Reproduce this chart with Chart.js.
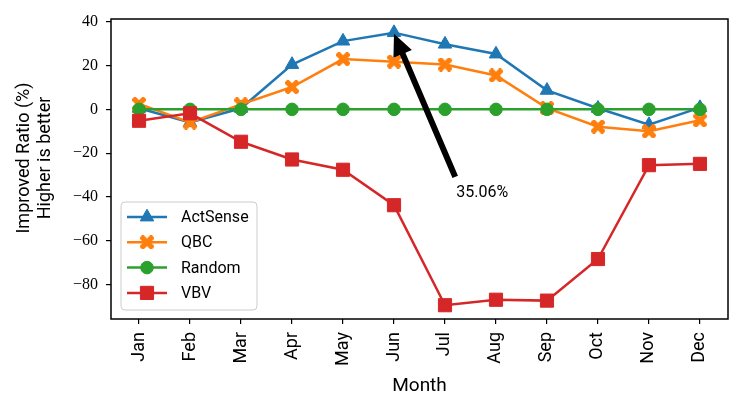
<!DOCTYPE html>
<html>
<head>
<meta charset="utf-8">
<script src="https://cdn.jsdelivr.net/npm/chart.js@4.4.0/dist/chart.umd.min.js"></script>
<style>
html, body { margin: 0; padding: 0; background: #fff; }
</style>
</head>
<body>
<canvas id="chart" width="748" height="411"></canvas>
<script>
const months = ['Jan', 'Feb', 'Mar', 'Apr', 'May', 'Jun', 'Jul', 'Aug', 'Sep', 'Oct', 'Nov', 'Dec'];
const actSense = [0.5, -6, 0.5, 20.5, 31.2, 35.06, 29.8, 25.3, 8.7, 0.5, -7, 0.8];
const qbc = [2.5, -6, 2.3, 10.2, 23, 21.8, 20.5, 15.5, 0.6, -7.9, -10, -5];
const random = [0, 0, 0, 0, 0, 0, 0, 0, 0, 0, 0, 0];
const vbv = [-5.2, -1.8, -14.8, -22.9, -27.6, -43.8, -89.5, -87, -87.4, -68.4, -25.5, -24.9];
const yTicks = [-80, -60, -40, -20, 0, 20, 40];
const yTitle = ['Improved Ratio (%)', 'Higher is better'];
const noteText = '35.06%';
const notePos = [6.22, -40];

const SANS = 'Roboto, "Liberation Sans", sans-serif';
const SERIF = '"Liberation Serif", serif';

function xMarker(color, size) {
    const c = document.createElement('canvas');
    c.width = size;
    c.height = size;
    const g = c.getContext('2d');
    const h = size / 2;
    g.translate(h, h);
    g.rotate(Math.PI / 4);
    g.fillStyle = color;
    g.fillRect(-h * 1.2, -2.7, h * 2.4, 5.4);
    g.fillRect(-2.7, -h * 1.2, 5.4, h * 2.4);
    return c;
}

function points(values) {
    return values.map((v, i) => ({ x: i, y: v }));
}

function series(label, values, color, style, radius, order) {
    return {
        label: label,
        data: points(values),
        borderColor: color,
        backgroundColor: color,
        borderWidth: 2.5,
        pointStyle: style,
        pointRadius: radius,
        pointBackgroundColor: color,
        pointBorderColor: color,
        pointBorderWidth: 1,
        order: order,
    };
}

const datasets = [
    series('ActSense', actSense, '#1f77b4', 'triangle', 7.8, 3),
    series('QBC', qbc, '#ff7f0e', xMarker('#ff7f0e', 14), 7, 2),
    series('Random', random, '#2ca02c', 'circle', 6.3, 1),
    series('VBV', vbv, '#d62728', 'rect', 9.3, 0),
];

// box round the plot, matplotlib style, plus the y label
const frame = {
    id: 'frame',
    afterDatasetsDraw(chart) {
        const { ctx, chartArea: a } = chart;
        ctx.save();
        ctx.strokeStyle = '#000';
        ctx.lineWidth = 1.5;
        ctx.strokeRect(a.left, a.top, a.right - a.left, a.bottom - a.top);
        ctx.translate(24, (a.top + a.bottom) / 2 - 11);
        ctx.rotate(-Math.PI / 2);
        ctx.fillStyle = '#000';
        ctx.font = '18px ' + SANS;
        ctx.textAlign = 'center';
        ctx.textBaseline = 'middle';
        yTitle.forEach((t, i) => ctx.fillText(t, 0, i * 21));
        ctx.restore();
    }
};

const legendBox = {
    id: 'legendBox',
    afterDatasetsDraw(chart) {
        const { ctx, chartArea: a } = chart;
        const x0 = a.left + 10, y0 = a.bottom - 117, w = 136, h = 108;
        ctx.save();
        ctx.beginPath();
        ctx.roundRect(x0, y0, w, h, 4);
        ctx.fillStyle = 'rgba(255,255,255,0.8)';
        ctx.fill();
        ctx.strokeStyle = '#cccccc';
        ctx.lineWidth = 1;
        ctx.stroke();
        chart.data.datasets.forEach((ds, i) => {
            const y = y0 + 15 + i * 25.3;
            ctx.strokeStyle = ds.borderColor;
            ctx.fillStyle = ds.borderColor;
            ctx.lineWidth = 2.5;
            ctx.beginPath();
            ctx.moveTo(x0 + 6, y);
            ctx.lineTo(x0 + 46, y);
            ctx.stroke();
            ctx.lineWidth = 1;
            Chart.helpers.drawPoint(ctx, {
                pointStyle: ds.pointStyle,
                radius: ds.pointRadius,
                rotation: 0,
                borderWidth: ds.pointStyle instanceof HTMLCanvasElement ? 0 : 1,
            }, x0 + 26, y);
            ctx.fillStyle = '#000';
            ctx.font = '16px ' + SANS;
            ctx.textAlign = 'left';
            ctx.textBaseline = 'middle';
            ctx.fillText(ds.label, x0 + 60, y + 1);
        });
        ctx.restore();
    }
};

const arrowNote = {
    id: 'arrowNote',
    afterDraw(chart) {
        const { ctx, scales: { x, y } } = chart;
        const tipX = x.getPixelForValue(5), tipY = y.getPixelForValue(actSense[5]) + 1;
        const lx = x.getPixelForValue(notePos[0]), ly = y.getPixelForValue(notePos[1]);
        const tailX = lx - 1, tailY = ly - 20;
        const dx = tipX - tailX, dy = tipY - tailY;
        const len = Math.hypot(dx, dy);
        const ux = dx / len, uy = dy / len;
        const nx = -uy, ny = ux;
        const sw = 3, hw = 10, hl = 22;
        const bx = tipX - ux * hl, by = tipY - uy * hl;
        ctx.save();
        ctx.fillStyle = '#000';
        ctx.beginPath();
        ctx.moveTo(tailX + nx * sw, tailY + ny * sw);
        ctx.lineTo(bx + nx * sw, by + ny * sw);
        ctx.lineTo(bx + nx * hw, by + ny * hw);
        ctx.lineTo(tipX, tipY);
        ctx.lineTo(bx - nx * hw, by - ny * hw);
        ctx.lineTo(bx - nx * sw, by - ny * sw);
        ctx.lineTo(tailX - nx * sw, tailY - ny * sw);
        ctx.closePath();
        ctx.fill();
        ctx.font = '16px ' + SANS;
        ctx.textAlign = 'left';
        ctx.textBaseline = 'alphabetic';
        ctx.fillText(noteText, lx, ly);
        ctx.restore();
    }
};

const config = {
    type: 'line',
    data: { datasets: datasets },
    options: {
        responsive: false,
        animation: false,
        layout: { padding: { top: 19, right: 20, left: 0, bottom: 0 } },
        plugins: { legend: { display: false }, tooltip: { enabled: false } },
        scales: {
            x: {
                type: 'linear',
                min: -0.55,
                max: 11.55,
                afterBuildTicks: s => { s.ticks = months.map((m, i) => ({ value: i })); },
                afterFit: s => { s.height = 92; },
                ticks: {
                    callback: v => months[v],
                    autoSkip: false,
                    maxRotation: 90,
                    minRotation: 90,
                    padding: 8,
                    color: '#000',
                    font: { family: SANS, size: 18 },
                },
                grid: { drawOnChartArea: false, drawTicks: true, tickLength: 5, color: '#000', lineWidth: 1.2 },
                border: { display: false },
                title: {
                    display: true,
                    text: 'Month',
                    color: '#000',
                    font: { family: SANS, size: 19, lineHeight: 1.15 },
                    padding: { top: 0, bottom: 14 },
                },
            },
            y: {
                type: 'linear',
                min: -95.8,
                max: 41.3,
                afterBuildTicks: s => { s.ticks = yTicks.map(v => ({ value: v })); },
                afterFit: s => { s.width = 111; },
                ticks: {
                    callback: v => v < 0 ? '\u2212' + Math.abs(v) : String(v),
                    padding: 8,
                    color: '#000',
                    font: { family: SERIF, size: 16 },
                },
                grid: { drawOnChartArea: false, drawTicks: true, tickLength: 5, color: '#000', lineWidth: 1.2 },
                border: { display: false },
            },
        },
    },
    plugins: [frame, legendBox, arrowNote],
};

new Chart(document.getElementById('chart').getContext('2d'), config);
</script>
</body>
</html>
